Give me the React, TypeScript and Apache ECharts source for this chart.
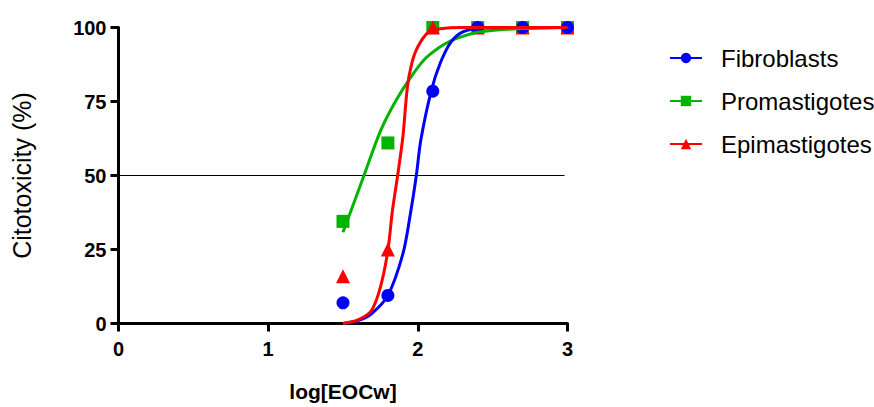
import React, { useEffect, useRef } from "react";
import * as echarts from "echarts";

const xDoses = [1.5, 1.8, 2.1, 2.4, 2.7, 3.0];
const fibroPts = [7, 9.5, 78.5, 100, 100, 100];
const promaPts = [34.5, 61, 100, 100, 100, 100];
const epimaPts = [16, 25, 100, 100, 100, 100];

const fibroFitX = [1.5, 1.6, 1.69, 1.8, 1.9, 1.95, 1.99, 2.02, 2.09, 2.15, 2.22, 2.3, 2.4, 2.6, 3.0];
const fibroFitY = [0, 1, 3.3, 9.5, 23.5, 37, 50, 62, 78.7, 88, 95, 98.5, 99.7, 100, 100];

const promaFitX = [1.5, 1.57, 1.64, 1.75, 1.85, 1.95, 2.05, 2.15, 2.22, 2.3, 2.4, 2.6, 3.0];
const promaFitY = [30.8, 40.4, 50, 65, 75, 83, 89.5, 93.5, 95.5, 97, 98.4, 99.4, 100];

const epimaFitX = [1.5, 1.6, 1.69, 1.75, 1.8, 1.83, 1.865, 1.9, 1.93, 1.96, 2.0, 2.07, 2.15, 2.3, 3.0];
const epimaFitY = [0, 1.2, 4.4, 12.3, 24.7, 38, 50, 63, 79.8, 88, 93.5, 98.4, 99.6, 100, 100];

const refLineX = [0, 2.98];
const refLineY = [50, 50];

const names = ["Fibroblasts", "Promastigotes", "Epimastigotes"];
const colors = ["#0000FF", "#00B400", "#FF0000"];

const zip = (xs: number[], ys: number[]) => xs.map((x, i) => [x, ys[i]]);

export default function App() {
  const ref = useRef<HTMLDivElement>(null);
  useEffect(() => {
    document.body.style.margin = "0";
    const chart = echarts.init(ref.current!, null, { renderer: "svg" });
    const font = "Arial, 'Liberation Sans', sans-serif";
    const fitLine = (name: string, color: string, symbol: string, xs: number[], ys: number[], z: number) => ({
      type: "line",
      name,
      data: zip(xs, ys),
      smooth: 0.3,
      symbol,
      showSymbol: false,
      symbolSize: 12,
      lineStyle: { color, width: 3 },
      itemStyle: { color },
      z,
      silent: true,
    });
    const pts = (name: string, color: string, symbol: string, size: number, ys: number[], z: number) => ({
      type: "scatter",
      name,
      data: zip(xDoses, ys),
      symbol,
      symbolSize: size,
      itemStyle: { color, opacity: 1 },
      z,
      silent: true,
    });
    chart.setOption({
      animation: false,
      textStyle: { fontFamily: font },
      grid: { left: 118.5, right: 306.5, top: 27.5, bottom: 83.5, containLabel: false },
      legend: {
        data: names,
        orient: "vertical",
        left: 664,
        top: 41,
        itemWidth: 32,
        itemHeight: 13,
        itemGap: 19,
        selectedMode: false,
        textStyle: { fontSize: 24, color: "#000", fontFamily: font, padding: [0, 0, 0, 14] },
      },
      xAxis: {
        type: "value",
        min: 0,
        max: 3,
        interval: 1,
        name: "log[EOCw]",
        nameLocation: "middle",
        nameGap: 57,
        nameTextStyle: { fontSize: 21, fontWeight: "bold", color: "#000", fontFamily: font },
        axisLine: { show: true, onZero: false, lineStyle: { color: "#000", width: 3 } },
        axisTick: { show: true, length: 8, lineStyle: { color: "#000", width: 3 } },
        axisLabel: { fontSize: 20, fontWeight: "bold", color: "#000", margin: 15, fontFamily: font },
        splitLine: { show: false },
      },
      yAxis: {
        type: "value",
        min: 0,
        max: 100,
        interval: 25,
        name: "Citotoxicity (%)",
        nameLocation: "middle",
        nameGap: 84,
        nameTextStyle: { fontSize: 25, color: "#000", fontFamily: font },
        axisLine: { show: true, onZero: false, lineStyle: { color: "#000", width: 3 } },
        axisTick: { show: true, length: 8, lineStyle: { color: "#000", width: 3 } },
        axisLabel: { fontSize: 20, fontWeight: "bold", color: "#000", margin: 12, fontFamily: font },
        splitLine: { show: false },
      },
      series: [
        fitLine(names[0], colors[0], "circle", fibroFitX, fibroFitY, 5),
        fitLine(names[1], colors[1], "rect", promaFitX, promaFitY, 4),
        fitLine(names[2], colors[2], "triangle", epimaFitX, epimaFitY, 6),
        pts(names[1], colors[1], "rect", 13, promaPts, 2),
        pts(names[2], colors[2], "triangle", 14, epimaPts, 2),
        pts(names[0], colors[0], "circle", 13, fibroPts, 3),
        {
          type: "line",
          name: "ref",
          data: zip(refLineX, refLineY),
          symbol: "none",
          lineStyle: { color: "#000", width: 1 },
          z: 1,
          silent: true,
        },
      ],
    });
    return () => chart.dispose();
  }, []);
  return <div ref={ref} style={{ width: 874, height: 407 }} />;
}
